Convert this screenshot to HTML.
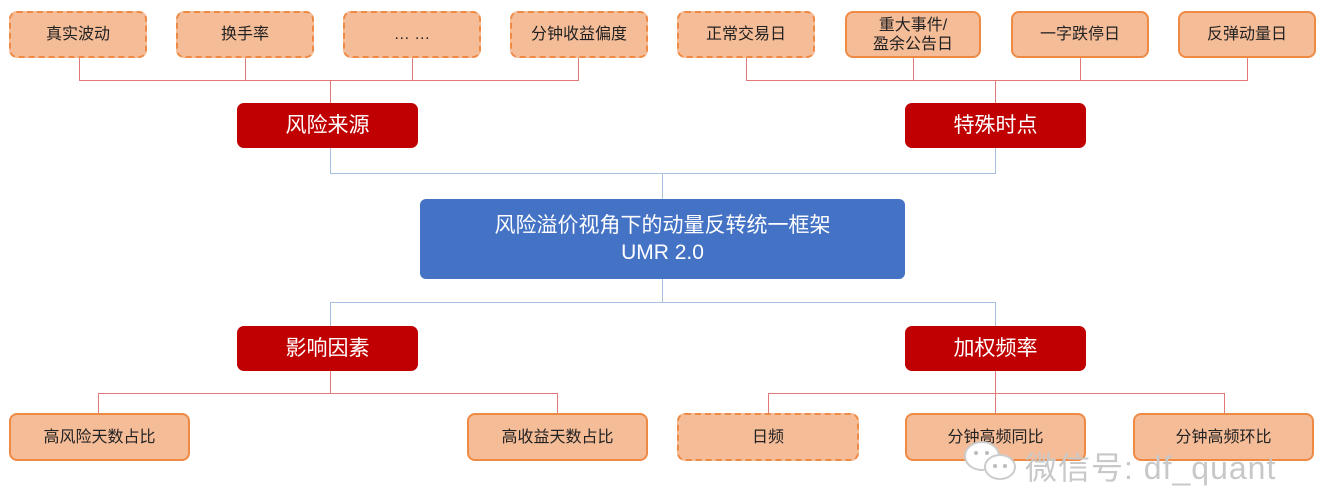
<!DOCTYPE html>
<html><head><meta charset="utf-8"><style>
body{margin:0;width:1323px;height:489px;background:#fff;position:relative;overflow:hidden;font-family:"Liberation Sans","Noto Sans CJK SC",sans-serif}
.b{position:absolute;box-sizing:border-box;display:flex;align-items:center;justify-content:center;text-align:center;color:#222;font-size:16px;line-height:19px;border-radius:8px}
.o{background:#f5bc98;border:2.5px solid #ef8a45}
.d{border-style:dashed}
.r{background:#c00000;color:#fff;font-size:21px;border-radius:7px}
.l{position:absolute;background:#e07a7a}
.bl{position:absolute;background:#a9bfe0}
</style></head><body>
<!-- top lines -->
<div class="l" style="left:79px;top:58px;width:1px;height:22px"></div>
<div class="l" style="left:245px;top:58px;width:1px;height:22px"></div>
<div class="l" style="left:412px;top:58px;width:1px;height:22px"></div>
<div class="l" style="left:578px;top:58px;width:1px;height:22px"></div>
<div class="l" style="left:79px;top:80px;width:500px;height:1px"></div>
<div class="l" style="left:330px;top:80px;width:1px;height:23px"></div>
<div class="l" style="left:746px;top:58px;width:1px;height:22px"></div>
<div class="l" style="left:913px;top:58px;width:1px;height:22px"></div>
<div class="l" style="left:1080px;top:58px;width:1px;height:22px"></div>
<div class="l" style="left:1247px;top:58px;width:1px;height:22px"></div>
<div class="l" style="left:746px;top:80px;width:502px;height:1px"></div>
<div class="l" style="left:995px;top:80px;width:1px;height:23px"></div>
<!-- blue lines -->
<div class="bl" style="left:330px;top:148px;width:1px;height:25px"></div>
<div class="bl" style="left:995px;top:148px;width:1px;height:25px"></div>
<div class="bl" style="left:330px;top:173px;width:666px;height:1px"></div>
<div class="bl" style="left:662px;top:173px;width:1px;height:26px"></div>
<div class="bl" style="left:662px;top:279px;width:1px;height:23px"></div>
<div class="bl" style="left:330px;top:302px;width:666px;height:1px"></div>
<div class="bl" style="left:330px;top:302px;width:1px;height:24px"></div>
<div class="bl" style="left:995px;top:302px;width:1px;height:24px"></div>
<!-- bottom lines -->
<div class="l" style="left:330px;top:371px;width:1px;height:22px"></div>
<div class="l" style="left:98px;top:393px;width:460px;height:1px"></div>
<div class="l" style="left:98px;top:393px;width:1px;height:20px"></div>
<div class="l" style="left:557px;top:393px;width:1px;height:20px"></div>
<div class="l" style="left:995px;top:371px;width:1px;height:42px"></div>
<div class="l" style="left:768px;top:393px;width:457px;height:1px"></div>
<div class="l" style="left:768px;top:393px;width:1px;height:20px"></div>
<div class="l" style="left:1224px;top:393px;width:1px;height:20px"></div>

<div class="b o d" style="left:9px;top:11px;width:138px;height:47px">真实波动</div>
<div class="b o d" style="left:176px;top:11px;width:138px;height:47px">换手率</div>
<div class="b o d" style="left:343px;top:11px;width:138px;height:47px">… …</div>
<div class="b o d" style="left:510px;top:11px;width:138px;height:47px">分钟收益偏度</div>
<div class="b o d" style="left:677px;top:11px;width:138px;height:47px">正常交易日</div>
<div class="b o" style="left:845px;top:11px;width:136px;height:47px">重大事件/<br>盈余公告日</div>
<div class="b o" style="left:1011px;top:11px;width:138px;height:47px">一字跌停日</div>
<div class="b o" style="left:1178px;top:11px;width:138px;height:47px">反弹动量日</div>

<div class="b r" style="left:237px;top:103px;width:181px;height:45px">风险来源</div>
<div class="b r" style="left:905px;top:103px;width:181px;height:45px">特殊时点</div>
<div class="b" style="left:420px;top:199px;width:485px;height:80px;background:#4472c4;color:#fff;font-size:21px;line-height:27px;border-radius:6px">风险溢价视角下的动量反转统一框架<br>UMR 2.0</div>
<div class="b r" style="left:237px;top:326px;width:181px;height:45px">影响因素</div>
<div class="b r" style="left:905px;top:326px;width:181px;height:45px">加权频率</div>

<div class="b o" style="left:9px;top:413px;width:181px;height:48px">高风险天数占比</div>
<div class="b o" style="left:467px;top:413px;width:181px;height:48px">高收益天数占比</div>
<div class="b o d" style="left:677px;top:413px;width:182px;height:48px">日频</div>
<div class="b o" style="left:905px;top:413px;width:181px;height:48px">分钟高频同比</div>
<div class="b o" style="left:1133px;top:413px;width:181px;height:48px">分钟高频环比</div>

<svg style="position:absolute;left:962px;top:440px" width="60" height="44">
<ellipse cx="20" cy="16" rx="17" ry="14" fill="#fff" stroke="#ccc" stroke-width="2"/>
<ellipse cx="38" cy="27" rx="15" ry="12" fill="#fff" stroke="#ccc" stroke-width="2"/>
<circle cx="14" cy="13" r="2" fill="#bbb"/><circle cx="25" cy="13" r="2" fill="#bbb"/>
<circle cx="33" cy="26" r="2" fill="#bbb"/><circle cx="43" cy="26" r="2" fill="#bbb"/>
</svg>
<div style="position:absolute;left:1025px;top:443px;font-size:32px;color:#c8c8c8;white-space:nowrap;letter-spacing:1px">微信号: df_quant</div>
</body></html>
